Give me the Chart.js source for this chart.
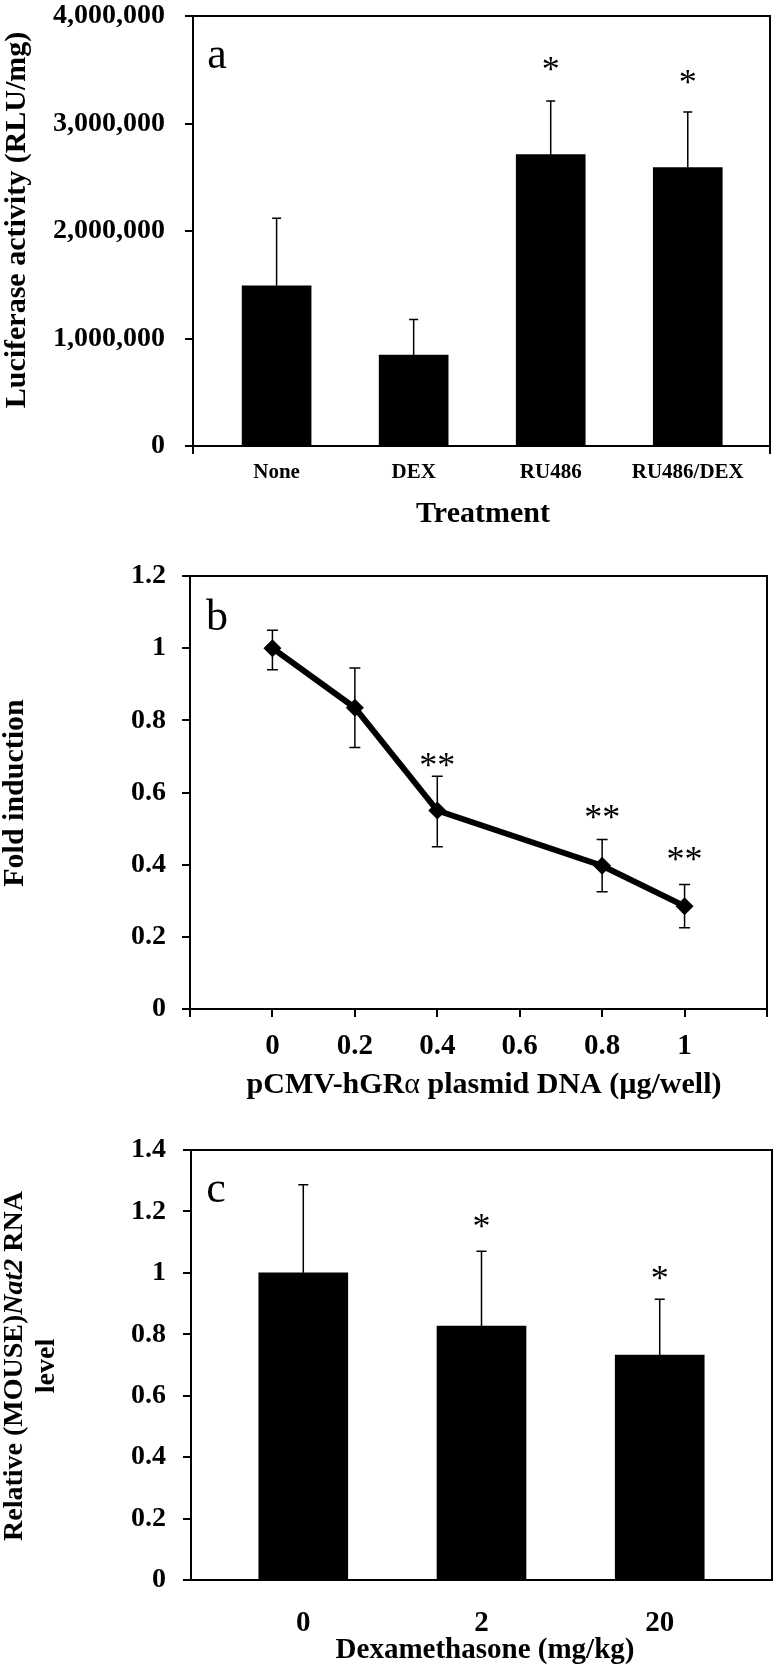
<!DOCTYPE html>
<html>
<head>
<meta charset="utf-8">
<script src="https://cdn.jsdelivr.net/npm/chart.js@4"></script>
<style>
  body { margin: 0; background: #fff; }
  canvas { position: absolute; left: 0; }
</style>
</head>
<body>
<canvas id="chartA" width="776" height="540" style="top:0"></canvas>
<canvas id="chartB" width="776" height="560" style="top:540px"></canvas>
<canvas id="chartC" width="776" height="565" style="top:1100px"></canvas>
<script>
// panel a
const treatments = ['None', 'DEX', 'RU486', 'RU486/DEX'];
const luciferase = [1490000, 846000, 2710000, 2590000];
const luciferaseUpper = [2118000, 1176000, 3210000, 3108000];
const luciferaseStars = ['', '', '*', '*'];
const luciferaseStarY = [null, null, 3556000, 3428000];
const luciferaseTicks = [0, 1000000, 2000000, 3000000, 4000000];

// panel b
const plasmidDose = [0, 0.2, 0.4, 0.8, 1];
const foldInduction = [1.0, 0.835, 0.55, 0.397, 0.285];
const foldUpper = [1.05, 0.945, 0.645, 0.47, 0.345];
const foldLower = [0.94, 0.725, 0.45, 0.325, 0.225];
const foldStars = ['', '', '**', '**', '**'];
const foldStarY = [null, null, 0.69, 0.545, 0.43];
const doseTicks = [0, 0.2, 0.4, 0.6, 0.8, 1];
const foldTicks = [0, 0.2, 0.4, 0.6, 0.8, 1, 1.2];

// panel c
const dexDose = ['0', '2', '20'];
const nat2Level = [1.0, 0.827, 0.732];
const nat2Upper = [1.287, 1.07, 0.914];
const nat2Stars = ['', '*', '*'];
const nat2StarY = [null, 1.17, 1.0];
const nat2Ticks = [0, 0.2, 0.4, 0.6, 0.8, 1, 1.2, 1.4];

const SERIF = '"Liberation Serif", "Times New Roman", serif';
Chart.defaults.font.family = SERIF;
Chart.defaults.color = '#000';

function bold(size) { return 'bold ' + size + 'px ' + SERIF; }
function fmt(v) { return String(+v.toFixed(1)); }

// centred text made of runs, optionally rotated
function drawRuns(ctx, runs, x, y, rotate) {
    ctx.save();
    ctx.translate(x, y);
    if (rotate) ctx.rotate(-Math.PI / 2);
    ctx.textBaseline = 'middle';
    ctx.textAlign = 'left';
    let total = 0;
    runs.forEach(r => { ctx.font = r.font; total += ctx.measureText(r.text).width; });
    let cx = -total / 2;
    runs.forEach(r => {
        ctx.font = r.font;
        ctx.fillText(r.text, cx, 0);
        cx += ctx.measureText(r.text).width;
    });
    ctx.restore();
}

function decor(cfg) {
    return {
        id: 'decor',
        afterDatasetsDraw(chart) {
            const { ctx, chartArea: a, scales: { x, y } } = chart;
            ctx.save();
            ctx.strokeStyle = '#000';
            ctx.fillStyle = '#000';
            ctx.lineWidth = 1.5;
            cfg.xs.forEach((xv, i) => {
                const px = x.getPixelForValue(xv);
                const top = y.getPixelForValue(cfg.upper[i]);
                const bottom = y.getPixelForValue(cfg.lower ? cfg.lower[i] : cfg.values[i]);
                ctx.beginPath();
                ctx.moveTo(px, bottom);
                ctx.lineTo(px, top);
                ctx.moveTo(px - cfg.cap, top);
                ctx.lineTo(px + cfg.cap, top);
                if (cfg.lower) {
                    ctx.moveTo(px - cfg.cap, bottom);
                    ctx.lineTo(px + cfg.cap, bottom);
                }
                ctx.stroke();
            });
            ctx.font = '36px ' + SERIF;
            ctx.textAlign = 'center';
            ctx.textBaseline = 'alphabetic';
            cfg.stars.forEach((s, i) => {
                if (!s) return;
                ctx.fillText(s, x.getPixelForValue(cfg.xs[i]), y.getPixelForValue(cfg.starY[i]) + 17);
            });
            ctx.lineWidth = 2;
            ctx.strokeRect(a.left, a.top, a.right - a.left, a.bottom - a.top);
            ctx.restore();
        },
        afterDraw(chart) {
            const ctx = chart.ctx;
            ctx.save();
            ctx.fillStyle = '#000';
            ctx.font = '44px ' + SERIF;
            ctx.textAlign = 'center';
            ctx.textBaseline = 'middle';
            ctx.fillText(cfg.letter[0], cfg.letter[1], cfg.letter[2]);
            cfg.yTitle.forEach(t => drawRuns(ctx, t.runs, t.x, t.y, true));
            drawRuns(ctx, cfg.xTitle.runs, cfg.xTitle.x, cfg.xTitle.y, false);
            ctx.restore();
        }
    };
}

function yAxis(ticks, max, width, padding, label) {
    return {
        min: 0,
        max: max,
        afterBuildTicks: s => { s.ticks = ticks.map(v => ({ value: v })); },
        afterFit: s => { s.width = width; s.paddingTop = 0; s.paddingBottom = 0; },
        grid: { drawOnChartArea: false, tickLength: 8, color: '#000', lineWidth: 2 },
        border: { display: false },
        ticks: { padding: padding, font: { size: 28, weight: 'bold', lineHeight: 1 }, callback: label }
    };
}

// a: luciferase bars
new Chart(document.getElementById('chartA'), {
    type: 'bar',
    data: {
        datasets: [{
            data: luciferase.map((v, i) => ({ x: i, y: v })),
            backgroundColor: '#000',
            borderWidth: 0,
            barThickness: 69
        }]
    },
    options: {
        responsive: false,
        animation: false,
        layout: { padding: { top: 16, right: 6, left: 0, bottom: 0 } },
        plugins: { legend: { display: false }, tooltip: { enabled: false } },
        scales: {
            x: {
                type: 'linear',
                min: -0.61,
                max: 3.6,
                offset: false,
                afterBuildTicks: s => { s.ticks = [-0.61, 0, 1, 2, 3, 3.6].map(v => ({ value: v })); },
                afterFit: s => { s.height = 94; s.paddingLeft = 0; s.paddingRight = 0; },
                grid: {
                    offset: false,
                    drawOnChartArea: false,
                    tickLength: 8,
                    lineWidth: 2,
                    tickColor: c => (c.tick && Number.isInteger(c.tick.value)) ? 'rgba(0,0,0,0)' : '#000'
                },
                border: { display: false },
                ticks: {
                    padding: 8,
                    maxRotation: 0,
                    autoSkip: false,
                    font: { size: 21, weight: 'bold', lineHeight: 1 },
                    callback: v => Number.isInteger(v) ? treatments[v] : ''
                }
            },
            y: yAxis(luciferaseTicks, 4000000, 193, 20, v => v.toLocaleString('en-US'))
        }
    },
    plugins: [decor({
        xs: [0, 1, 2, 3],
        values: luciferase,
        upper: luciferaseUpper,
        cap: 4.5,
        stars: luciferaseStars,
        starY: luciferaseStarY,
        letter: ['a', 217, 56],
        yTitle: [{ runs: [{ text: 'Luciferase activity (RLU/mg)', font: bold(30) }], x: 17, y: 220 }],
        xTitle: { runs: [{ text: 'Treatment', font: bold(30) }], x: 483, y: 514 }
    })]
});

// b: fold induction line
new Chart(document.getElementById('chartB'), {
    type: 'line',
    data: {
        datasets: [{
            data: foldInduction.map((v, i) => ({ x: plasmidDose[i], y: v })),
            borderColor: '#000',
            borderWidth: 6,
            tension: 0,
            pointStyle: 'rectRot',
            pointRadius: 9,
            pointBackgroundColor: '#000',
            pointBorderColor: '#000',
            pointBorderWidth: 0
        }]
    },
    options: {
        responsive: false,
        animation: false,
        layout: { padding: { top: 36, right: 5, left: 0, bottom: 0 } },
        plugins: { legend: { display: false }, tooltip: { enabled: false } },
        scales: {
            x: {
                type: 'linear',
                min: -0.2,
                max: 1.2,
                offset: false,
                afterBuildTicks: s => { s.ticks = [s.min].concat(doseTicks, [s.max]).map(v => ({ value: v })); },
                afterFit: s => { s.height = 91; s.paddingLeft = 0; s.paddingRight = 0; },
                grid: { offset: false, drawOnChartArea: false, tickLength: 8, lineWidth: 2, color: '#000' },
                border: { display: false },
                ticks: {
                    padding: 15,
                    maxRotation: 0,
                    autoSkip: false,
                    font: { size: 29, weight: 'bold', lineHeight: 1 },
                    callback: v => (v >= 0 && v <= 1) ? fmt(v) : ''
                }
            },
            y: yAxis(foldTicks, 1.2, 190, 16, fmt)
        }
    },
    plugins: [decor({
        xs: plasmidDose,
        values: foldInduction,
        upper: foldUpper,
        lower: foldLower,
        cap: 5.5,
        stars: foldStars,
        starY: foldStarY,
        letter: ['b', 217, 78],
        yTitle: [{ runs: [{ text: 'Fold induction', font: bold(30) }], x: 15, y: 253 }],
        xTitle: {
            runs: [
                { text: 'pCMV-hGR', font: bold(30) },
                { text: '\u03b1 ', font: '30px ' + SERIF },
                { text: 'plasmid DNA (\u00b5g/well)', font: bold(30) }
            ],
            x: 484, y: 545
        }
    })]
});

// c: Nat2 RNA bars
new Chart(document.getElementById('chartC'), {
    type: 'bar',
    data: {
        datasets: [{
            data: nat2Level.map((v, i) => ({ x: i, y: v })),
            backgroundColor: '#000',
            borderWidth: 0,
            barThickness: 89
        }]
    },
    options: {
        responsive: false,
        animation: false,
        layout: { padding: { top: 50, right: 4, left: 0, bottom: 0 } },
        plugins: { legend: { display: false }, tooltip: { enabled: false } },
        scales: {
            x: {
                type: 'linear',
                min: -0.63,
                max: 2.63,
                offset: false,
                afterBuildTicks: s => { s.ticks = dexDose.map((d, i) => ({ value: i })); },
                afterFit: s => { s.height = 85; s.paddingLeft = 0; s.paddingRight = 0; },
                grid: { offset: false, drawOnChartArea: false, drawTicks: false },
                border: { display: false },
                ticks: {
                    padding: 29,
                    maxRotation: 0,
                    autoSkip: false,
                    font: { size: 29, weight: 'bold', lineHeight: 1 },
                    callback: v => dexDose[v]
                }
            },
            y: yAxis(nat2Ticks, 1.4, 191, 17, fmt)
        }
    },
    plugins: [decor({
        xs: [0, 1, 2],
        values: nat2Level,
        upper: nat2Upper,
        cap: 5,
        stars: nat2Stars,
        starY: nat2StarY,
        letter: ['c', 216, 90],
        yTitle: [
            {
                runs: [
                    { text: 'Relative (MOUSE)', font: bold(28) },
                    { text: 'Nat2', font: 'italic ' + bold(28) },
                    { text: ' RNA', font: bold(28) }
                ],
                x: 15, y: 266
            },
            { runs: [{ text: 'level', font: bold(28) }], x: 47, y: 266 }
        ],
        xTitle: { runs: [{ text: 'Dexamethasone (mg/kg)', font: bold(29) }], x: 485, y: 551 }
    })]
});
</script>
</body>
</html>
